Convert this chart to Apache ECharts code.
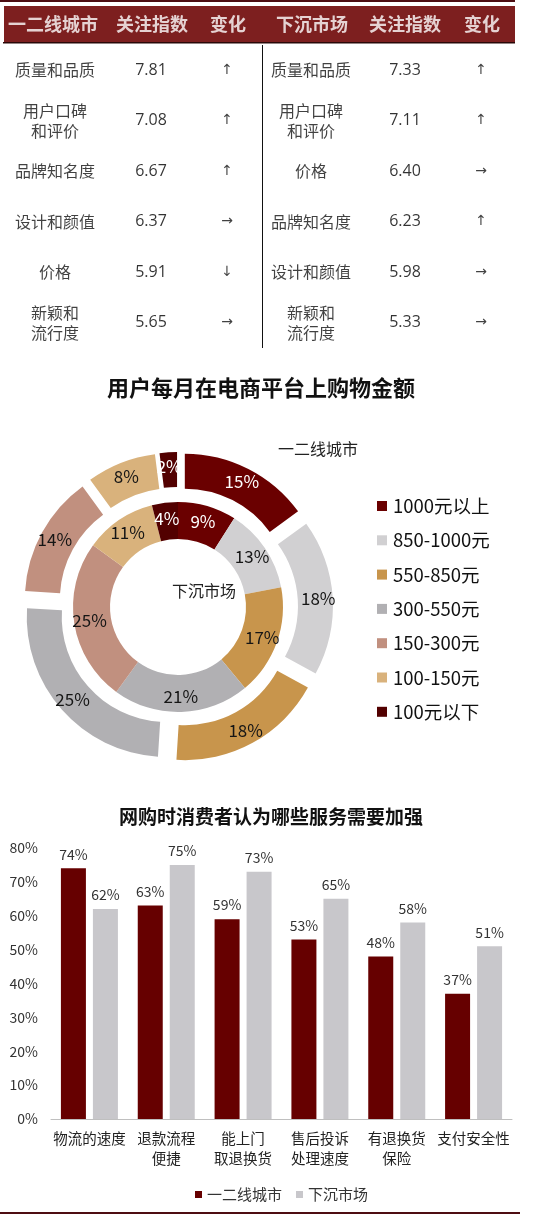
<!DOCTYPE html>
<html>
<head>
<meta charset="utf-8">
<script src="https://cdn.jsdelivr.net/npm/echarts@6/dist/echarts.min.js"></script>
<style>
html,body{margin:0;padding:0;background:#fff;}
#main{width:535px;height:1217px;}
</style>
</head>
<body>
<div id="main"></div>
<script>
// ---------- DATA ----------
const tableHeaders = ['一二线城市', '关注指数', '变化', '下沉市场', '关注指数', '变化'];
const tierFactors = ['质量和品质', '用户口碑\n和评价', '品牌知名度', '设计和颜值', '价格', '新颖和\n流行度'];
const tierIndex = [7.81, 7.08, 6.67, 6.37, 5.91, 5.65];
const tierChange = ['↑', '↑', '↑', '→', '↓', '→'];
const lowerFactors = ['质量和品质', '用户口碑\n和评价', '价格', '品牌知名度', '设计和颜值', '新颖和\n流行度'];
const lowerIndex = [7.33, 7.11, 6.40, 6.23, 5.98, 5.33];
const lowerChange = ['↑', '↑', '→', '↑', '→', '→'];

const pieTitle = '用户每月在电商平台上购物金额';
const amountNames = ['1000元以上', '850-1000元', '550-850元', '300-550元', '150-300元', '100-150元', '100元以下'];
const tierShare = [15, 18, 18, 25, 14, 8, 2];
const lowerShare = [9, 13, 17, 21, 25, 11, 4];

const barTitle = '网购时消费者认为哪些服务需要加强';
const serviceCats = ['物流的速度', '退款流程\n便捷', '能上门\n取退换货', '售后投诉\n处理速度', '有退换货\n保险', '支付安全性'];
const tierNeed = [74, 63, 59, 53, 48, 37];
const lowerNeed = [62, 75, 73, 65, 58, 51];
const seriesNames = ['一二线城市', '下沉市场'];

// ---------- LAYOUT / STYLE ----------
const FONT = '"Noto Sans CJK SC", "Noto Sans", sans-serif';
const colX = [55, 151, 227, 311, 405, 481];      // table column centres (layout)
const headerX = [53, 152, 228, 312, 405, 482];
const dividerX = 262;
const pieColors = ['#6a0000', '#d1d0d2', '#c8954c', '#b1b0b3', '#c1907f', '#d9b27c', '#520000'];
const pieLabelLight = [true, false, false, false, false, false, true];
const barColors = ['#660000', '#c8c7cb'];
const pieCenter = [178, 607];

const rows = tierFactors.map((_, i) => i);

function cells(col, arr, fmt) {
  return arr.map((v, i) => [colX[col], i, fmt ? fmt(v) : v]);
}
const nameCells = cells(0, tierFactors).concat(cells(3, lowerFactors));
const indexCells = cells(1, tierIndex, v => v.toFixed(2)).concat(cells(4, lowerIndex, v => v.toFixed(2)));
const changeCells = cells(2, tierChange).concat(cells(5, lowerChange));
const headerCells = tableHeaders.map((t, i) => [headerX[i], 0, t]);

function pieData(values, selected) {
  return values.map((v, i) => ({
    name: amountNames[i],
    value: v,
    selected: selected,
    itemStyle: { color: pieColors[i] },
    label: { color: pieLabelLight[i] ? '#ffffff' : '#151515' }
  }));
}

function hiddenAxis(gridIndex, type, extra) {
  return Object.assign({ gridIndex: gridIndex, type: type, show: false }, extra || {});
}

const chart = echarts.init(document.getElementById('main'), null, { renderer: 'canvas' });

const option = {
  animation: false,
  textStyle: { fontFamily: FONT },
  title: [
    { text: pieTitle, left: 256, top: 372, textAlign: 'center',
      textStyle: { fontSize: 22, fontWeight: 'bold', color: '#111', fontFamily: FONT } },
    { text: '一二线城市', left: 273, top: 436,
      textStyle: { fontSize: 16, fontWeight: 'normal', color: '#222', fontFamily: FONT } },
    { text: '下沉市场', left: 167, top: 578,
      textStyle: { fontSize: 16, fontWeight: 'normal', color: '#222', fontFamily: FONT } },
    { text: barTitle, left: 266, top: 802, textAlign: 'center',
      textStyle: { fontSize: 19, fontWeight: 'bold', color: '#111', fontFamily: FONT } }
  ],
  legend: [
    {
      data: amountNames, orient: 'vertical', left: 372, top: 491,
      itemWidth: 10, itemHeight: 10, itemGap: 14.3, selectedMode: false,
      icon: 'rect',
      textStyle: { fontSize: 18.5, color: '#111', lineHeight: 20, fontFamily: FONT, padding: [0, 0, 0, 1] }
    },
    {
      data: seriesNames, orient: 'horizontal', left: 190, top: 1182,
      itemWidth: 7, itemHeight: 7, itemGap: 14, selectedMode: false,
      icon: 'rect',
      textStyle: { fontSize: 15, color: '#333', fontFamily: FONT }
    }
  ],
  grid: [
    { left: 4, top: 6, width: 511, height: 37, show: true, backgroundColor: '#7d1f1f', borderWidth: 0 },
    { left: 0, top: 45, width: 535, height: 303, show: false },
    { left: 51, right: 23, top: 848, bottom: 98, show: false },
    { left: 0, top: 0, width: 515, height: 2, show: true, backgroundColor: '#4d0d12', borderWidth: 0 },
    { left: 3, top: 42, width: 512, height: 1.5, show: true, backgroundColor: '#2a0808', borderWidth: 0 },
    { left: 0, top: 1212, width: 520, height: 2, show: true, backgroundColor: '#4d0d12', borderWidth: 0 }
  ],
  xAxis: [
    hiddenAxis(0, 'value', { min: 4, max: 515 }),
    hiddenAxis(1, 'value', { min: 0, max: 535 }),
    {
      gridIndex: 2, type: 'category', data: serviceCats,
      axisLine: { show: true, lineStyle: { color: '#bfbfbf', width: 1 } },
      axisTick: { show: false },
      axisLabel: { interval: 0, fontSize: 14.5, color: '#222', lineHeight: 20, margin: 9, fontFamily: FONT },
      splitLine: { show: false }
    },
    hiddenAxis(3, 'value', { min: 0, max: 1 }),
    hiddenAxis(4, 'value', { min: 0, max: 1 }),
    hiddenAxis(5, 'value', { min: 0, max: 1 })
  ],
  yAxis: [
    hiddenAxis(0, 'category', { data: ['h'] }),
    hiddenAxis(1, 'category', { data: rows, inverse: true }),
    {
      gridIndex: 2, type: 'value', min: 0, max: 80, interval: 10,
      axisLine: { show: false }, axisTick: { show: false }, splitLine: { show: false },
      axisLabel: { formatter: '{value}%', fontSize: 14, color: '#333', margin: 13, fontFamily: FONT }
    },
    hiddenAxis(3, 'value', { min: 0, max: 1 }),
    hiddenAxis(4, 'value', { min: 0, max: 1 }),
    hiddenAxis(5, 'value', { min: 0, max: 1 })
  ],
  series: [
    {
      name: 'tableHeader', type: 'scatter', xAxisIndex: 0, yAxisIndex: 0,
      data: headerCells, symbolSize: 0, silent: true,
      label: { show: true, position: 'inside', formatter: p => p.value[2],
        fontSize: 18, fontWeight: 'bold', color: '#ffffff', fontFamily: FONT }
    },
    {
      name: 'tableNames', type: 'scatter', xAxisIndex: 1, yAxisIndex: 1,
      data: nameCells, symbolSize: 0, silent: true,
      label: { show: true, position: 'inside', formatter: p => p.value[2],
        fontSize: 16, color: '#111', lineHeight: 20, fontFamily: FONT },
      markLine: {
        silent: true, symbol: 'none', label: { show: false },
        lineStyle: { color: '#111', width: 1, type: 'solid' },
        data: [{ xAxis: dividerX }]
      }
    },
    {
      name: 'tableIndex', type: 'scatter', xAxisIndex: 1, yAxisIndex: 1,
      data: indexCells, symbolSize: 0, silent: true,
      label: { show: true, position: 'inside', formatter: p => p.value[2],
        fontSize: 16, color: '#000', fontFamily: '"Open Sans", "Noto Sans", sans-serif' }
    },
    {
      name: 'tableChange', type: 'scatter', xAxisIndex: 1, yAxisIndex: 1,
      data: changeCells, symbolSize: 0, silent: true,
      label: { show: true, position: 'inside', formatter: p => p.value[2],
        fontSize: 14, color: '#111', fontFamily: '"DejaVu Sans", sans-serif' }
    },
    {
      name: 'outerRing', type: 'pie', center: pieCenter, radius: [105, 140],
      startAngle: 90, clockwise: true, selectedMode: 'multiple', selectedOffset: 15,
      avoidLabelOverlap: false, silent: true,
      emphasis: { disabled: true },
      itemStyle: { borderWidth: 0 },
      label: { show: true, position: 'inside', formatter: '{c}%', fontSize: 17, fontFamily: FONT },
      labelLine: { show: false },
      data: pieData(tierShare, true)
    },
    {
      name: 'innerRing', type: 'pie', center: pieCenter, radius: [68, 105],
      startAngle: 90, clockwise: true, selectedMode: false,
      avoidLabelOverlap: false, silent: true,
      emphasis: { disabled: true },
      itemStyle: { borderWidth: 0 },
      label: { show: true, position: 'inside', formatter: '{c}%', fontSize: 17, fontFamily: FONT },
      labelLine: { show: false },
      data: pieData(lowerShare, false)
    },
    {
      name: seriesNames[0], type: 'bar', xAxisIndex: 2, yAxisIndex: 2,
      data: tierNeed, barWidth: 25, barGap: '28%',
      itemStyle: { color: barColors[0] },
      label: { show: true, position: 'top', distance: 7, formatter: '{c}%', fontSize: 14, color: '#333', fontFamily: FONT }
    },
    {
      name: seriesNames[1], type: 'bar', xAxisIndex: 2, yAxisIndex: 2,
      data: lowerNeed, barWidth: 25, barGap: '28%',
      itemStyle: { color: barColors[1] },
      label: { show: true, position: 'top', distance: 7, formatter: '{c}%', fontSize: 14, color: '#333', fontFamily: FONT }
    }
  ]
};
chart.setOption(option);
</script>
</body>
</html>
